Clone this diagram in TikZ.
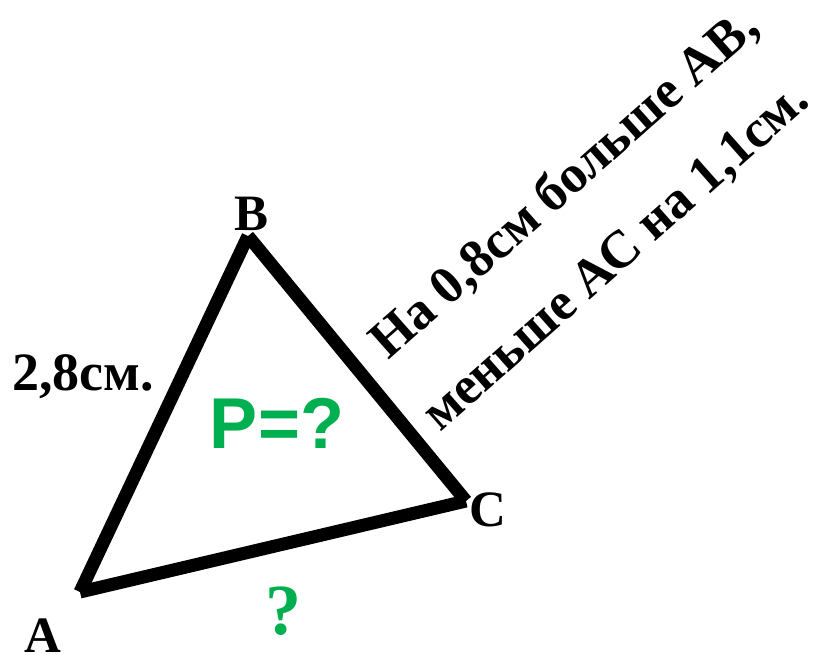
\documentclass[tikz,border=0pt]{standalone}
\usepackage{fontspec}
\setmainfont{Liberation Serif}
\newfontfamily\sansb{Liberation Sans}[BoldFont=* Bold]
\definecolor{pgreen}{HTML}{00B050}
\begin{document}
\begin{tikzpicture}[x=1pt,y=-1pt,
  side/.style={line width=13pt,line cap=butt},
  lbl/.style={inner sep=0pt,font=\bfseries\fontsize{51}{58}\selectfont},
  note/.style={inner sep=0pt,anchor=base west,rotate=41.5,font=\bfseries\fontsize{53}{60}\selectfont}]
\useasboundingbox (0,0) rectangle (817,654);
\fill[white] (0,0) rectangle (817,654);
\coordinate (A) at (80,592);
\coordinate (B) at (248,236);
\coordinate (C) at (466,501);
\draw[side] (A) -- (B);
\draw[side] (B) -- (C);
\draw[side] (A) -- (C);
\node[lbl,anchor=base] (lB) at (252,230) {B};
\node[lbl,anchor=base] (lA) at (43,652) {A};
\node[lbl,anchor=base] (lC) at (488,526) {C};
\node[inner sep=0pt,anchor=base west,font=\bfseries\fontsize{54}{60}\selectfont] (ab) at (12,390) {2,8см.};
\node[inner sep=0pt,anchor=base,text=pgreen,font=\sansb\bfseries\fontsize{72}{80}\selectfont] (P) at (277,448) {P=?};
\node[inner sep=0pt,anchor=base,text=pgreen,font=\bfseries\fontsize{72}{80}\selectfont] (q) at (283,634) {?};
\node[note] (n1) at (388,361) {На 0,8см больше АВ,};
\node[note] (n2) at (440,433) {меньше АС на 1,1см.};
\end{tikzpicture}
\end{document}
